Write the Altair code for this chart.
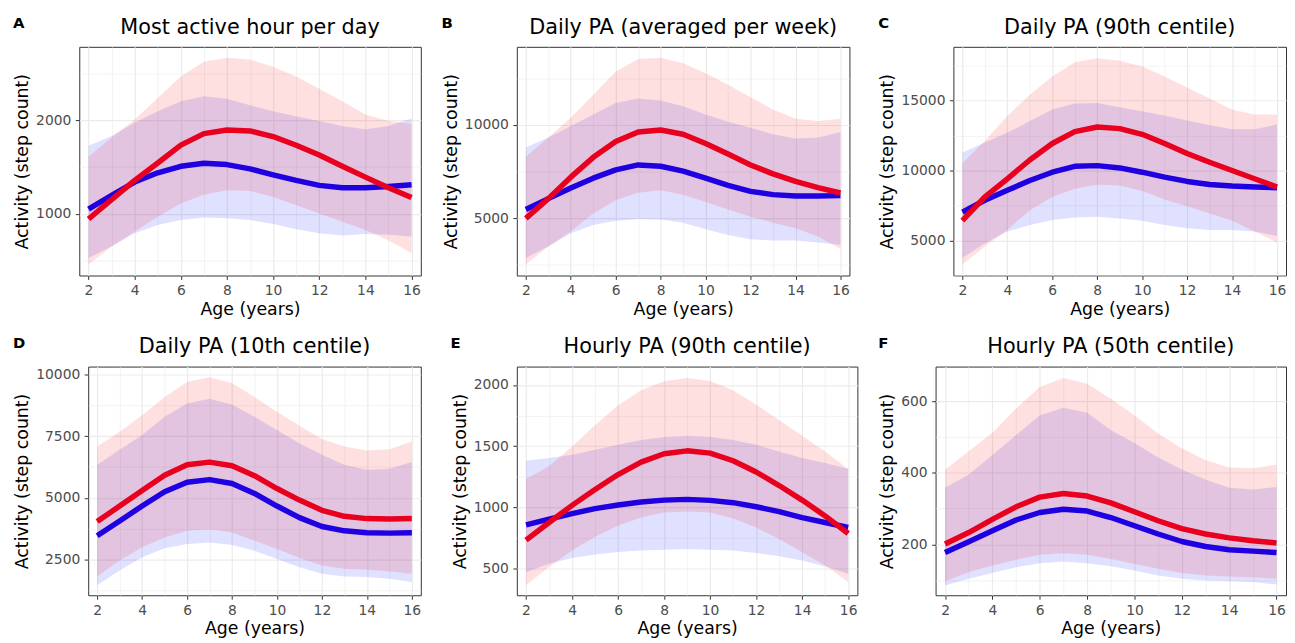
import altair as alt
import pandas as pd

AGES = list(range(2, 17))
LETTERS = ["A", "B", "C", "D", "E", "F"]
TITLES = [
    "Most active hour per day",
    "Daily PA (averaged per week)",
    "Daily PA (90th centile)",
    "Daily PA (10th centile)",
    "Hourly PA (90th centile)",
    "Hourly PA (50th centile)",
]

# Panel A
A_RED_MEAN = [944, 1150, 1356, 1542, 1732, 1856, 1894, 1884, 1824, 1732, 1627, 1507, 1391, 1278, 1173]
A_RED_LO = [458, 651, 810, 968, 1109, 1204, 1250, 1243, 1180, 1092, 1004, 915, 827, 715, 581]
A_RED_HI = [1609, 1813, 2007, 2236, 2465, 2623, 2665, 2648, 2570, 2465, 2335, 2200, 2060, 1990, 1961]
A_BLUE_MEAN = [1049, 1197, 1338, 1437, 1507, 1539, 1525, 1479, 1415, 1356, 1303, 1278, 1278, 1292, 1310]
A_BLUE_LO = [528, 651, 792, 880, 933, 961, 951, 933, 891, 835, 792, 768, 785, 775, 757]
A_BLUE_HI = [1725, 1831, 1972, 2095, 2200, 2254, 2229, 2158, 2095, 2042, 1989, 1937, 1901, 1937, 2018]

# Panel B
B_RED_MEAN = [5000, 6060, 7208, 8269, 9117, 9629, 9735, 9505, 9011, 8445, 7862, 7385, 6979, 6643, 6360]
B_RED_LO = [2527, 3498, 4293, 5265, 5972, 6378, 6502, 6272, 5883, 5477, 5088, 4770, 4470, 4028, 3357]
B_RED_HI = [8304, 9329, 10389, 11626, 12862, 13534, 13604, 13304, 12774, 12156, 11484, 10830, 10336, 10212, 10336]
B_BLUE_MEAN = [5477, 6060, 6625, 7155, 7597, 7862, 7791, 7527, 7155, 6767, 6449, 6272, 6201, 6201, 6219]
B_BLUE_LO = [2880, 3498, 4205, 4647, 4876, 4965, 4947, 4770, 4417, 4117, 3887, 3816, 3816, 3710, 3586]
B_BLUE_HI = [8799, 9329, 9947, 10566, 11184, 11414, 11308, 11007, 10566, 10177, 9859, 9505, 9276, 9329, 9629]

# Panel C
C_RED_MEAN = [6415, 8113, 9410, 10755, 11934, 12783, 13113, 12995, 12594, 11934, 11226, 10590, 10000, 9410, 8821]
C_RED_LO = [3278, 4575, 5755, 7170, 8113, 8703, 8986, 8939, 8538, 7925, 7453, 6934, 6415, 5637, 4858]
C_RED_HI = [10519, 12123, 13892, 15425, 16722, 17736, 18019, 17854, 17429, 16722, 15943, 15142, 14363, 14009, 14009]
C_BLUE_MEAN = [7028, 7877, 8585, 9292, 9882, 10307, 10354, 10189, 9882, 9528, 9222, 9009, 8892, 8821, 8774]
C_BLUE_LO = [3750, 4811, 5637, 6108, 6462, 6651, 6698, 6580, 6415, 6108, 5873, 5755, 5755, 5637, 5330]
C_BLUE_HI = [11297, 12005, 12712, 13538, 14363, 14788, 14835, 14528, 14245, 13939, 13585, 13255, 12948, 12948, 13302]

# Panel D
D_RED_MEAN = [4032, 4664, 5296, 5914, 6344, 6451, 6304, 5900, 5376, 4906, 4489, 4247, 4153, 4140, 4153]
D_RED_LO = [1801, 2446, 2984, 3387, 3656, 3723, 3589, 3253, 2917, 2554, 2245, 2110, 2070, 2003, 1909]
D_RED_HI = [7083, 7688, 8360, 9099, 9704, 9905, 9664, 9099, 8494, 7930, 7392, 7083, 6922, 6976, 7285]
D_BLUE_MEAN = [3454, 4059, 4664, 5242, 5632, 5739, 5578, 5175, 4664, 4193, 3831, 3656, 3575, 3562, 3575]
D_BLUE_LO = [1438, 2043, 2581, 2944, 3118, 3185, 3078, 2849, 2513, 2177, 1909, 1801, 1774, 1707, 1573]
D_BLUE_HI = [6344, 6949, 7553, 8293, 8830, 9032, 8790, 8293, 7755, 7218, 6747, 6344, 6142, 6183, 6451]

# Panel E
E_RED_MEAN = [732, 876, 1016, 1146, 1268, 1370, 1438, 1462, 1443, 1381, 1289, 1178, 1059, 930, 786]
E_RED_LO = [362, 511, 646, 759, 849, 916, 957, 965, 957, 908, 835, 741, 632, 524, 389]
E_RED_HI = [1232, 1335, 1497, 1673, 1835, 1957, 2030, 2057, 2032, 1957, 1841, 1714, 1586, 1457, 1314]
E_BLUE_MEAN = [857, 903, 949, 989, 1019, 1043, 1059, 1065, 1057, 1038, 1005, 965, 916, 876, 835]
E_BLUE_LO = [470, 538, 586, 614, 635, 646, 654, 659, 654, 646, 627, 600, 565, 516, 457]
E_BLUE_HI = [1381, 1403, 1430, 1470, 1511, 1551, 1576, 1586, 1578, 1551, 1511, 1457, 1403, 1362, 1316]

# Panel F
F_RED_MEAN = [201, 233, 270, 305, 332, 342, 335, 316, 291, 266, 244, 229, 218, 210, 204]
F_RED_LO = [97, 122, 141, 157, 171, 175, 171, 159, 145, 132, 120, 113, 110, 107, 104]
F_RED_HI = [409, 460, 512, 580, 640, 665, 649, 607, 561, 510, 469, 436, 415, 413, 423]
F_BLUE_MEAN = [177, 207, 238, 268, 289, 298, 293, 275, 252, 229, 208, 194, 185, 181, 177]
F_BLUE_LO = [85, 104, 120, 136, 147, 152, 147, 139, 127, 113, 104, 99, 97, 95, 88]
F_BLUE_HI = [358, 395, 450, 506, 561, 582, 568, 520, 483, 443, 409, 381, 358, 353, 360]

# Y-axis ticks (major and minor) per panel
A_Y_TICKS = [500, 1000, 1500, 2000, 2500]
B_Y_TICKS = [2500, 5000, 7500, 10000, 12500]
C_Y_TICKS = [2500, 5000, 7500, 10000, 12500, 15000, 17500]
D_Y_TICKS = [1250, 2500, 3750, 5000, 6250, 7500, 8750, 10000]
E_Y_TICKS = [500, 750, 1000, 1250, 1500, 1750, 2000]
F_Y_TICKS = [100, 200, 300, 400, 500, 600]
X_TICKS = list(range(2, 17))

FONT = "DejaVu Sans"
RED_LINE = "#E8001E"
BLUE_LINE = "#1E00E0"


def make_df(rm, rl, rh, bm, bl, bh):
    rows = []
    for g, m, lo, hi in (("blue", bm, bl, bh), ("red", rm, rl, rh)):
        for a, mv, lv, hv in zip(AGES, m, lo, hi):
            rows.append({"age": a, "group": g, "mean": mv, "lo": lv, "hi": hv})
    return pd.DataFrame(rows)


def panel(letter, title, df, ydomain, yticks, ystep, width, letter_dx, extend_right):
    minor_y = f"datum.value % {ystep} !== 0"
    minor_x = "datum.value % 2 !== 0"
    xaxis = alt.Axis(
        values=X_TICKS,
        labelExpr=f"{minor_x} ? '' : datum.label",
        tickOpacity={"condition": {"test": minor_x, "value": 0}, "value": 1},
        gridWidth={"condition": {"test": minor_x, "value": 0.6}, "value": 1.2},
        labelOverlap=False,
        labelFlush=False,
        tickSize=4,
        labelPadding=4.5,
        titlePadding=2.5,
        format="d",
    )
    yaxis = alt.Axis(
        values=yticks,
        labelExpr=f"{minor_y} ? '' : datum.label",
        tickOpacity={"condition": {"test": minor_y, "value": 0}, "value": 1},
        gridWidth={"condition": {"test": minor_y, "value": 0.6}, "value": 1.2},
        labelOverlap=False,
        labelFlush=False,
        tickSize=4,
        labelPadding=4.5,
        titlePadding=4,
        format="d",
    )
    xs = alt.Scale(domain=[1.6, 16.4], nice=False, zero=False)
    ys = alt.Scale(domain=ydomain, nice=False, zero=False)
    x = alt.X("age:Q", scale=xs, axis=xaxis, title="Age (years)")
    fill = alt.Color(
        "group:N",
        scale=alt.Scale(domain=["blue", "red"], range=["#0000FF", "#FF0000"]),
        legend=None,
    )
    stroke = alt.Color(
        "group:N",
        scale=alt.Scale(domain=["blue", "red"], range=[BLUE_LINE, RED_LINE]),
        legend=None,
    )
    base = alt.Chart(df)
    band = base.mark_area(opacity=0.12).encode(
        x=x,
        y=alt.Y("lo:Q", scale=ys, axis=yaxis, title="Activity (step count)", stack=None),
        y2="hi:Q",
        fill=fill,
    )
    line = base.mark_line(strokeWidth=5.5, strokeJoin="round", strokeCap="butt").encode(
        x=x,
        y=alt.Y("mean:Q", scale=ys, axis=yaxis, title="Activity (step count)"),
        color=stroke,
    )
    texts = pd.DataFrame({"letter": [letter], "title": [title]})
    lab = alt.Chart(texts).mark_text(
        align="left", baseline="alphabetic", fontSize=15, fontWeight="bold",
        font=FONT, color="black",
    ).encode(x=alt.value(letter_dx), y=alt.value(-19), text="letter:N")
    ttl = alt.Chart(texts).mark_text(
        align="center", baseline="alphabetic", fontSize=21, fontWeight="normal",
        font=FONT, color="black",
    ).encode(x=alt.value(width / 2), y=alt.value(-13.3), text="title:N")
    layers = [band, line, lab, ttl]
    if extend_right:
        # invisible marker that reserves the gutter between neighbouring panels
        gutter = alt.Chart(texts).mark_text(
            text=".", opacity=0, align="right", baseline="middle", fontSize=10,
        ).encode(x=alt.value(width + 18.5), y=alt.value(100))
        layers.append(gutter)
    return alt.layer(*layers).resolve_scale(color="independent").properties(
        width=width,
        height=231,
    )


def spacer():
    return alt.Chart(pd.DataFrame({"s": [""]})).mark_text(text="").properties(
        width=1, height=1, view=alt.ViewBackground(stroke="transparent"),
    )


pA = panel(LETTERS[0], TITLES[0], make_df(A_RED_MEAN, A_RED_LO, A_RED_HI, A_BLUE_MEAN, A_BLUE_LO, A_BLUE_HI),
           [341, 2782], A_Y_TICKS, 1000, 345, -67, True)
pB = panel(LETTERS[1], TITLES[1], make_df(B_RED_MEAN, B_RED_LO, B_RED_HI, B_BLUE_MEAN, B_BLUE_LO, B_BLUE_HI),
           [1943, 14187], B_Y_TICKS, 5000, 336, -76, True)
pC = panel(LETTERS[2], TITLES[2], make_df(C_RED_MEAN, C_RED_LO, C_RED_HI, C_BLUE_MEAN, C_BLUE_LO, C_BLUE_HI),
           [2500, 18844], C_Y_TICKS, 5000, 336, -76, False)
pD = panel(LETTERS[3], TITLES[3], make_df(D_RED_MEAN, D_RED_LO, D_RED_HI, D_BLUE_MEAN, D_BLUE_LO, D_BLUE_HI),
           [1035, 10336], D_Y_TICKS, 2500, 336, -76, True)
pE = panel(LETTERS[4], TITLES[4], make_df(E_RED_MEAN, E_RED_LO, E_RED_HI, E_BLUE_MEAN, E_BLUE_LO, E_BLUE_HI),
           [281, 2151], E_Y_TICKS, 500, 344, -67, True)
pF = panel(LETTERS[5], TITLES[5], make_df(F_RED_MEAN, F_RED_LO, F_RED_HI, F_BLUE_MEAN, F_BLUE_LO, F_BLUE_HI),
           [57.7, 697], F_Y_TICKS, 200, 354, -58, False)

chart = alt.concat(
    spacer(), pA, pB, pC, spacer(), pD, pE, pF,
    columns=4,
    align="none",
    spacing={"row": 17, "column": 1},
).properties(
    padding={"left": 0, "top": 4, "right": 0, "bottom": 0},
    background="white",
).configure_view(
    stroke="#333333", strokeWidth=1,
).configure_axis(
    domain=False,
    gridColor="#EBEBEB",
    tickColor="#333333",
    labelColor="#4D4D4D",
    labelFont=FONT,
    labelFontSize=14,
    titleFont=FONT,
    titleFontSize=17.5,
    titleFontWeight="normal",
    titleColor="black",
)

chart.save("out.html", embed_options={"renderer": "svg", "actions": False})
